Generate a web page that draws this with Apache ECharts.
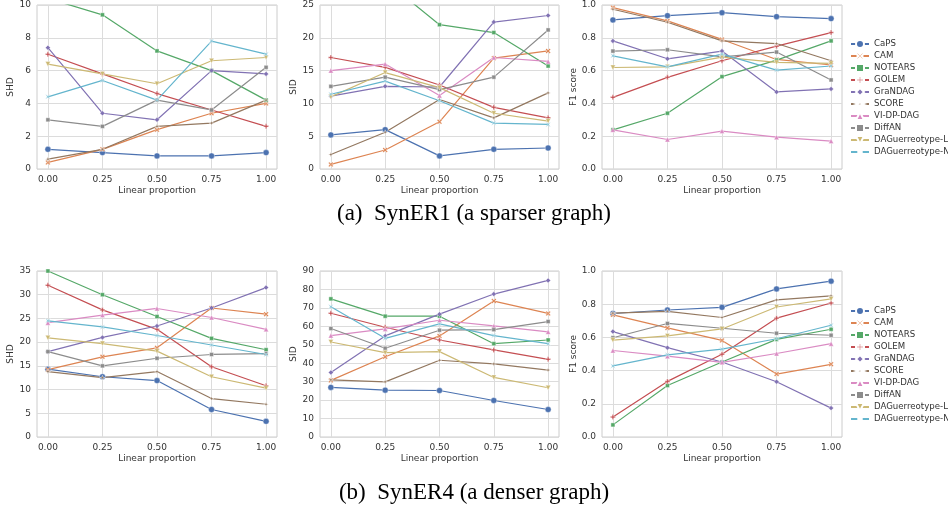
<!DOCTYPE html>
<html>
<head>
<meta charset="utf-8">
<script src="https://cdn.jsdelivr.net/npm/echarts@6/dist/echarts.min.js"></script>
<style>
  html, body { margin: 0; padding: 0; background: #fff; }
  #main { width: 948px; height: 505px; }
</style>
</head>
<body>
<div id="main"></div>
<script>
// x values: linear proportion
const xValues = [0, 0.25, 0.5, 0.75, 1.0];
const methods = ['CaPS', 'CAM', 'NOTEARS', 'GOLEM', 'GraNDAG', 'SCORE', 'VI-DP-DAG', 'DiffAN', 'DAGuerreotype-L', 'DAGuerreotype-N'];

// (a) SynER1 - SHD (values above 10 are cut off by the axis)
const shd1 = {
  'CaPS': [1.2, 1.0, 0.8, 0.8, 1.0],
  'CAM': [0.4, 1.2, 2.4, 3.4, 4.0],
  'NOTEARS': [10.4, 9.4, 7.2, 6.0, 4.2],
  'GOLEM': [7.0, 5.8, 4.6, 3.6, 2.6],
  'GraNDAG': [7.4, 3.4, 3.0, 6.0, 5.8],
  'SCORE': [0.6, 1.2, 2.6, 2.8, 4.2],
  'VI-DP-DAG': [13.0, 12.4, 12.8, 12.0, 12.2],
  'DiffAN': [3.0, 2.6, 4.2, 3.6, 6.2],
  'DAGuerreotype-L': [6.4, 5.8, 5.2, 6.6, 6.8],
  'DAGuerreotype-N': [4.4, 5.4, 4.2, 7.8, 7.0]
};
// (a) SynER1 - SID
const sid1 = {
  'CaPS': [5.2, 6.0, 2.0, 3.0, 3.2],
  'CAM': [0.7, 2.9, 7.2, 16.9, 18.0],
  'NOTEARS': [30.0, 28.7, 22.0, 20.8, 15.7],
  'GOLEM': [17.0, 15.5, 12.8, 9.4, 7.8],
  'GraNDAG': [11.1, 12.6, 12.5, 22.4, 23.4],
  'SCORE': [2.2, 5.6, 10.6, 7.8, 11.6],
  'VI-DP-DAG': [15.0, 16.0, 11.2, 17.0, 16.4],
  'DiffAN': [12.6, 14.0, 12.1, 14.0, 21.2],
  'DAGuerreotype-L': [11.0, 14.7, 12.4, 8.5, 7.3],
  'DAGuerreotype-N': [11.4, 13.4, 10.4, 7.0, 6.8]
};
// (a) SynER1 - F1 score
const f1a = {
  'CaPS': [0.909, 0.935, 0.953, 0.929, 0.917],
  'CAM': [0.984, 0.903, 0.790, 0.668, 0.634],
  'NOTEARS': [0.239, 0.340, 0.563, 0.664, 0.781],
  'GOLEM': [0.437, 0.559, 0.660, 0.749, 0.832],
  'GraNDAG': [0.781, 0.672, 0.719, 0.470, 0.488],
  'SCORE': [0.974, 0.895, 0.781, 0.765, 0.660],
  'VI-DP-DAG': [0.239, 0.180, 0.231, 0.194, 0.170],
  'DiffAN': [0.719, 0.727, 0.684, 0.713, 0.543],
  'DAGuerreotype-L': [0.619, 0.623, 0.682, 0.650, 0.644],
  'DAGuerreotype-N': [0.690, 0.623, 0.700, 0.603, 0.628]
};
// (b) SynER4 - SHD
const shd4 = {
  'CaPS': [14.3, 12.7, 11.9, 5.8, 3.3],
  'CAM': [14.2, 16.9, 18.8, 27.2, 25.9],
  'NOTEARS': [35.0, 30.0, 25.4, 20.8, 18.4],
  'GOLEM': [32.0, 26.8, 22.7, 14.8, 10.8],
  'GraNDAG': [18.0, 21.0, 23.4, 27.2, 31.5],
  'SCORE': [13.8, 12.5, 13.8, 8.1, 6.9],
  'VI-DP-DAG': [24.1, 25.7, 27.1, 25.2, 22.7],
  'DiffAN': [18.0, 15.0, 16.6, 17.4, 17.6],
  'DAGuerreotype-L': [20.9, 19.7, 18.1, 12.7, 10.3],
  'DAGuerreotype-N': [24.5, 23.2, 21.4, 19.4, 17.4]
};
// (b) SynER4 - SID
const sid4 = {
  'CaPS': [26.9, 25.4, 25.2, 19.8, 14.9],
  'CAM': [30.7, 43.5, 54.8, 73.7, 67.0],
  'NOTEARS': [74.9, 65.5, 65.5, 50.6, 52.6],
  'GOLEM': [67.1, 59.5, 52.6, 47.2, 42.1],
  'GraNDAG': [35.0, 54.8, 66.6, 77.5, 84.9],
  'SCORE': [31.0, 29.9, 41.6, 39.6, 36.3],
  'VI-DP-DAG': [55.0, 58.6, 63.3, 60.2, 57.0],
  'DiffAN': [58.8, 48.1, 57.9, 58.2, 62.6],
  'DAGuerreotype-L': [51.5, 45.7, 46.3, 32.3, 26.7],
  'DAGuerreotype-N': [70.6, 53.5, 61.3, 55.0, 50.6]
};
// (b) SynER4 - F1 score
const f1b = {
  'CaPS': [0.744, 0.765, 0.781, 0.892, 0.939],
  'CAM': [0.736, 0.657, 0.582, 0.379, 0.438],
  'NOTEARS': [0.073, 0.310, 0.452, 0.588, 0.649],
  'GOLEM': [0.120, 0.335, 0.499, 0.716, 0.807],
  'GraNDAG': [0.635, 0.538, 0.452, 0.333, 0.174],
  'SCORE': [0.746, 0.757, 0.720, 0.826, 0.850],
  'VI-DP-DAG': [0.521, 0.487, 0.450, 0.503, 0.562],
  'DiffAN': [0.598, 0.684, 0.655, 0.625, 0.613],
  'DAGuerreotype-L': [0.584, 0.609, 0.651, 0.783, 0.832],
  'DAGuerreotype-N': [0.428, 0.495, 0.529, 0.592, 0.673]
};

const colors = ['#4C72B0', '#DD8452', '#55A868', '#C44E52', '#8172B3', '#937860', '#DA8BC3', '#8C8C8C', '#CCB974', '#64B5CD'];
const symbols = [
  'circle',
  'path://M2,0L5,3L8,0L10,2L7,5L10,8L8,10L5,7L2,10L0,8L3,5L0,2Z',
  'rect',
  'path://M3.5,0H6.5V3.5H10V6.5H6.5V10H3.5V6.5H0V3.5H3.5Z',
  'diamond',
  'path://M5,0L6.2,3.8L10,5L6.2,6.2L5,10L3.8,6.2L0,5L3.8,3.8Z',
  'triangle',
  'rect',
  'path://M0,0H10L5,9Z',
  'path://M0,0L5,3.5L10,0L6.5,5L10,10L5,6.5L0,10L3.5,5Z'
];
const symbolSizes = [6, 5, 4, 5, 5, 5, 5, 4, 5, 5];

const panels = [
  { data: shd1, name: 'SHD', max: 10, interval: 2, fmt: v => String(v), gap: 18 },
  { data: sid1, name: 'SID', max: 25, interval: 5, fmt: v => String(v), gap: 21 },
  { data: f1a, name: 'F1 score', max: 1, interval: 0.2, fmt: v => v.toFixed(1), gap: 23 },
  { data: shd4, name: 'SHD', max: 35, interval: 5, fmt: v => String(v), gap: 19 },
  { data: sid4, name: 'SID', max: 90, interval: 10, fmt: v => String(v), gap: 21 },
  { data: f1b, name: 'F1 score', max: 1, interval: 0.2, fmt: v => v.toFixed(1), gap: 23 }
];

const lefts = [37, 320, 602];
const font = 'DejaVu Sans';
const textColor = '#333';

const grid = panels.map((p, i) => ({
  left: lefts[i % 3],
  top: i < 3 ? 5 : 271,
  width: i % 3 === 1 ? 239 : 240,
  height: i < 3 ? 164 : 166,
  show: true,
  borderColor: '#cccccc',
  borderWidth: 1,
  containLabel: false
}));

const xAxis = panels.map((p, i) => ({
  type: 'value',
  gridIndex: i,
  min: -0.05,
  max: 1.05,
  name: 'Linear proportion',
  nameLocation: 'middle',
  nameGap: 17,
  nameTextStyle: { fontFamily: font, fontSize: 9, color: textColor },
  axisLine: { show: false },
  axisTick: { show: false, customValues: xValues },
  axisLabel: { customValues: xValues, formatter: v => v.toFixed(2), fontFamily: font, fontSize: 9, color: textColor, margin: 6 },
  splitLine: { show: true, lineStyle: { color: '#dcdcdc', width: 1 } }
}));

const yAxis = panels.map((p, i) => ({
  type: 'value',
  gridIndex: i,
  min: 0,
  max: p.max,
  interval: p.interval,
  name: p.name,
  nameLocation: 'middle',
  nameGap: p.gap,
  nameTextStyle: { fontFamily: font, fontSize: 9, color: textColor },
  axisLine: { show: false },
  axisTick: { show: false },
  axisLabel: { formatter: p.fmt, fontFamily: font, fontSize: 9, color: textColor, margin: 6 },
  splitLine: { show: true, lineStyle: { color: '#dcdcdc', width: 1 } }
}));

const series = [];
panels.forEach((p, i) => {
  methods.forEach((m, k) => {
    series.push({
      name: m,
      type: 'line',
      xAxisIndex: i,
      yAxisIndex: i,
      data: xValues.map((x, j) => [x, p.data[m][j]]),
      symbol: symbols[k],
      symbolSize: symbolSizes[k],
      showAllSymbol: true,
      clip: true,
      color: colors[k],
      lineStyle: { width: 1.2, color: colors[k] },
      itemStyle: { color: colors[k], borderColor: '#fff', borderWidth: 0.4 },
      emphasis: { disabled: true },
      animation: false
    });
  });
});

const legendBase = {
  orient: 'vertical',
  left: 850,
  padding: 0,
  itemWidth: 18,
  itemHeight: 10,
  itemGap: 2,
  data: methods,
  textStyle: { fontFamily: font, fontSize: 8.6, color: textColor, lineHeight: 10, overflow: 'none' }
};

const captionStyle = { fontFamily: 'Liberation Serif', fontSize: 23, fontWeight: 'normal', color: '#000' };

const option = {
  backgroundColor: '#fff',
  animation: false,
  title: [
    { text: '(a)  SynER1 (a sparser graph)', left: 'center', top: 197, textStyle: captionStyle },
    { text: '(b)  SynER4 (a denser graph)', left: 'center', top: 476, textStyle: captionStyle }
  ],
  legend: [
    Object.assign({}, legendBase, { top: 39 }),
    Object.assign({}, legendBase, { top: 306 })
  ],
  grid: grid,
  xAxis: xAxis,
  yAxis: yAxis,
  series: series
};

const chart = echarts.init(document.getElementById('main'));
chart.setOption(option);
window.addEventListener('resize', () => chart.resize());
</script>
</body>
</html>
